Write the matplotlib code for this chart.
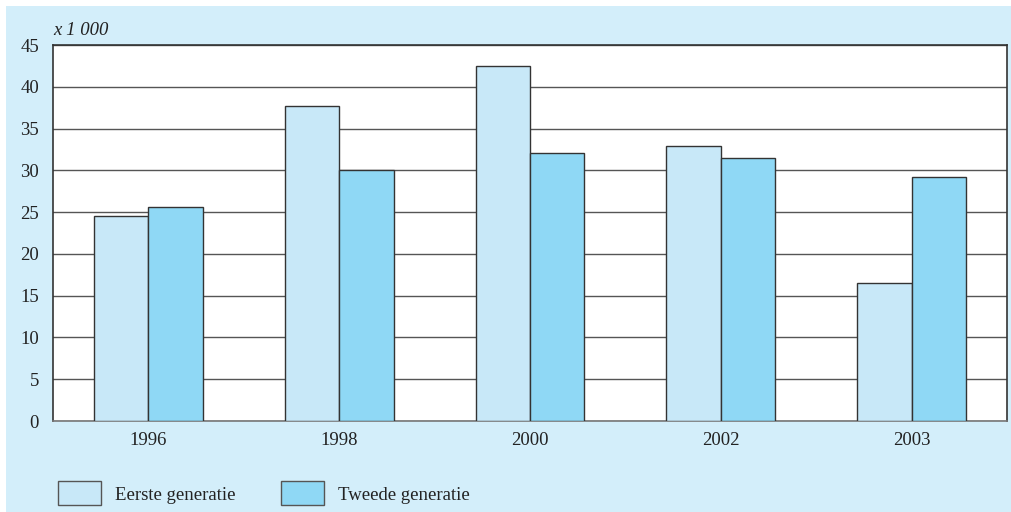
import numpy as np
import matplotlib.pyplot as plt
from matplotlib.patches import Rectangle

# Data
years = ['1996', '1998', '2000', '2002', '2003']
eerste = [24.5, 37.7, 42.5, 32.9, 16.5]
tweede = [25.6, 30.0, 32.1, 31.5, 29.2]

bg = '#d3eefa'
c1 = '#c8e8f8'
c2 = '#8fd8f5'

plt.rcParams['font.family'] = ['Liberation Serif', 'DejaVu Serif']

fig = plt.figure(figsize=(10.12, 5.12), dpi=100)
fig.patch.set_facecolor('white')
# light blue panel behind everything
fig.patches.append(Rectangle((6 / 1012, 0), 1 - 6 / 1012, 1 - 6 / 512,
                             transform=fig.transFigure, facecolor=bg,
                             edgecolor='none', zorder=-5))

ax = fig.add_axes([53 / 1012, 1 - 421 / 512, 954 / 1012, 376 / 512])
ax.set_facecolor('white')
ax.set_zorder(1)

x = np.arange(len(years))
w = 0.285
ax.bar(x - w / 2, eerste, w, color=c1, edgecolor='#333333', linewidth=1, zorder=3)
ax.bar(x + w / 2, tweede, w, color=c2, edgecolor='#333333', linewidth=1, zorder=3)

ax.set_xlim(-0.5, len(years) - 0.5)
ax.set_ylim(0, 45)
ax.set_yticks(range(0, 46, 5))
ax.set_xticks(x)
ax.set_xticklabels(years)
ax.yaxis.grid(True, color='#555555', linewidth=1, zorder=0)
ax.set_axisbelow(True)
ax.tick_params(length=0, labelsize=13.5, colors='#222222')
ax.tick_params(axis='y', pad=10)
ax.tick_params(axis='x', pad=8)
for s in ax.spines.values():
    s.set_color('#333333')
    s.set_linewidth(1.2)
ax.spines['bottom'].set_color('#777777')

ax.text(0, 1.015, 'x 1 000', transform=ax.transAxes, fontsize=13.5,
        style='italic', color='#222222', ha='left', va='bottom')

# legend boxes at the bottom
def legend_item(x0, label, color):
    fig.patches.append(Rectangle((x0 / 1012, 1 - 505 / 512), 43 / 1012, 24 / 512,
                                 transform=fig.transFigure, facecolor=color,
                                 edgecolor='#555555', linewidth=1, zorder=2))
    fig.text((x0 + 57) / 1012, 1 - 495 / 512, label, fontsize=13.5,
             color='#222222', va='center', ha='left')

legend_item(58, 'Eerste generatie', c1)
legend_item(281, 'Tweede generatie', c2)

fig.savefig('out.png', dpi=100, facecolor=fig.get_facecolor())
